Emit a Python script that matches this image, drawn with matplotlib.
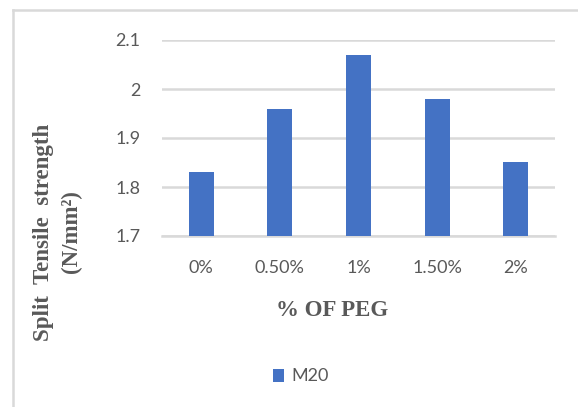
import matplotlib
matplotlib.use("Agg")
import matplotlib.pyplot as plt
from matplotlib.lines import Line2D
from matplotlib.patches import Rectangle

# Split tensile strength of M20 concrete for each PEG dosage
categories = ["0%", "0.50%", "1%", "1.50%", "2%"]
m20_values = [1.83, 1.96, 2.07, 1.98, 1.85]
y_ticks = [1.7, 1.8, 1.9, 2.0, 2.1]
y_tick_labels = ["1.7", "1.8", "1.9", "2", "2.1"]

W, H = 578, 407
DPI = 100
fig = plt.figure(figsize=(W / DPI, H / DPI), dpi=DPI)
fig.patch.set_facecolor("white")

def fx(px):
    return px / W

def fy(py):
    return 1 - py / H

bar_color = "#4472C4"
grid_color = "#D9D9D9"
text_gray = "#595959"
tick_font = ["Lato", "DejaVu Sans"]
serif_font = ["Liberation Serif", "DejaVu Serif"]

# chart frame (left and top edges)
fig.add_artist(Line2D([fx(13), fx(13)], [fy(10), 0], color=grid_color, lw=1.8))
fig.add_artist(Line2D([fx(13), 1], [fy(10), fy(10)], color=grid_color, lw=1.8))

ax = fig.add_axes([fx(162), fy(236), fx(555) - fx(162), fy(40) - fy(236)])
x = list(range(len(categories)))
ax.bar(x, m20_values, width=0.32, color=bar_color, zorder=3)
ax.set_xlim(-0.5, len(categories) - 0.5)
ax.set_ylim(1.7, 2.1)

ax.set_yticks(y_ticks)
ax.set_yticklabels(y_tick_labels)
ax.set_xticks(x)
ax.set_xticklabels(categories)
ax.tick_params(axis="y", length=0, pad=15.5, labelsize=13, labelcolor=text_gray)
ax.tick_params(axis="x", length=0, pad=17, labelsize=13, labelcolor=text_gray)
for lbl in ax.get_xticklabels() + ax.get_yticklabels():
    lbl.set_family(tick_font)

ax.grid(axis="y", color=grid_color, lw=1.8, zorder=0)
ax.set_axisbelow(True)
for side in ["top", "right", "left"]:
    ax.spines[side].set_visible(False)
ax.spines["bottom"].set_color(grid_color)
ax.spines["bottom"].set_linewidth(1.8)

# axis titles
fig.text(fx(332), fy(311), "% OF PEG", ha="center", va="center",
         fontsize=16.5, fontweight="bold", color=text_gray, family=serif_font)
fig.text(fx(44), fy(232), "Split  Tensile  strength", ha="center", va="center",
         rotation=90, fontsize=16.5, fontweight="bold", color=text_gray, family=serif_font)
fig.text(fx(71), fy(232), "(N/mm²)", ha="center", va="center",
         rotation=90, fontsize=16.5, fontweight="bold", color=text_gray, family=serif_font)

# legend
fig.add_artist(Rectangle((fx(273), fy(382)), fx(284) - fx(273), fy(369) - fy(382),
                         facecolor=bar_color, edgecolor="none"))
fig.text(fx(291), fy(376), "M20", ha="left", va="center", fontsize=13,
         color=text_gray, family=tick_font)

fig.savefig("out.png", dpi=DPI, facecolor="white")
